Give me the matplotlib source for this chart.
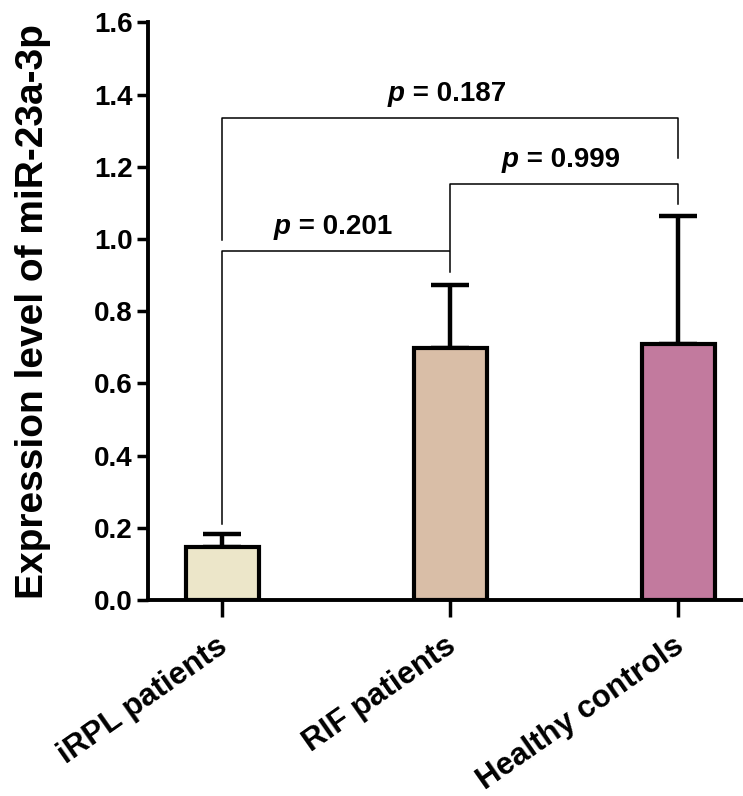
import matplotlib.pyplot as plt
import matplotlib.transforms as mtransforms
import numpy as np

plt.rcParams["font.family"] = ["Liberation Sans", "DejaVu Sans"]
plt.rcParams["font.weight"] = "bold"

# Данные
groups = ["iRPL patients", "RIF patients", "Healthy controls"]
means = [0.147, 0.698, 0.709]
sd_up = [0.036, 0.175, 0.355]
colors = ["#ECE6C9", "#D9BEA7", "#C27A9E"]

# Скобки: (от, до, высота, низ левой ноги, низ правой ноги, подпись)
brackets = [
    (0, 1, 0.967, 0.211, 0.909, "0.201"),
    (1, 2, 1.152, 0.970, 1.097, "0.999"),
    (0, 2, 1.335, 0.997, 1.224, "0.187"),
]

fig = plt.figure(figsize=(7.43, 7.96), dpi=100)
ax = fig.add_axes([0.199, 0.246, 0.80, 0.726])

x = np.arange(len(groups))
ax.bar(x, means, width=0.32, color=colors, edgecolor="black", linewidth=3, zorder=2)
ax.errorbar(x, means, yerr=[np.zeros(3), sd_up], fmt="none", ecolor="black",
            elinewidth=3.2, capsize=14, capthick=3.2, zorder=1)

# Скобки с p-значениями
for x0, x1, h, l0, l1, txt in brackets:
    ax.plot([x0, x0, x1, x1], [l0, h, h, l1], color="black", linewidth=1.1)
    xc = (x0 + x1) / 2 - 0.2
    ax.text(xc, h + 0.03, "p", style="italic", fontsize=20,
            fontweight="bold", ha="right", va="bottom")
    ax.text(xc, h + 0.03, " = " + txt, fontsize=20,
            fontweight="bold", ha="left", va="bottom")

ax.set_xlim(-0.326, 2.28)
ax.set_ylim(0, 1.6)
yt = np.arange(0, 1.61, 0.2)
ax.set_yticks(yt)
ax.set_yticklabels([f"{v:.1f}" for v in yt], fontsize=20, fontweight="bold")
ax.set_xticks(x)
ax.set_xticklabels([""] * len(groups))

# Подписи по X (повёрнутые), чуть сдвинуты влево и вниз
offset = mtransforms.ScaledTranslation(-6 / 100, -31 / 100, fig.dpi_scale_trans)
for xi, g in zip(x, groups):
    ax.text(xi, 0, g, transform=ax.get_xaxis_transform() + offset,
            rotation=35, ha="right", va="top", rotation_mode="anchor",
            fontsize=22.5, fontweight="bold")

ax.tick_params(axis="y", length=8, width=2.5, pad=3)
ax.tick_params(axis="x", length=12, width=2.5, pad=8)

for s in ["top", "right"]:
    ax.spines[s].set_visible(False)
for s in ["left", "bottom"]:
    ax.spines[s].set_linewidth(2.8)

ax.set_ylabel("Expression level of miR-23a-3p", fontsize=28, fontweight="bold", labelpad=31)

plt.savefig("out.png", dpi=100)
